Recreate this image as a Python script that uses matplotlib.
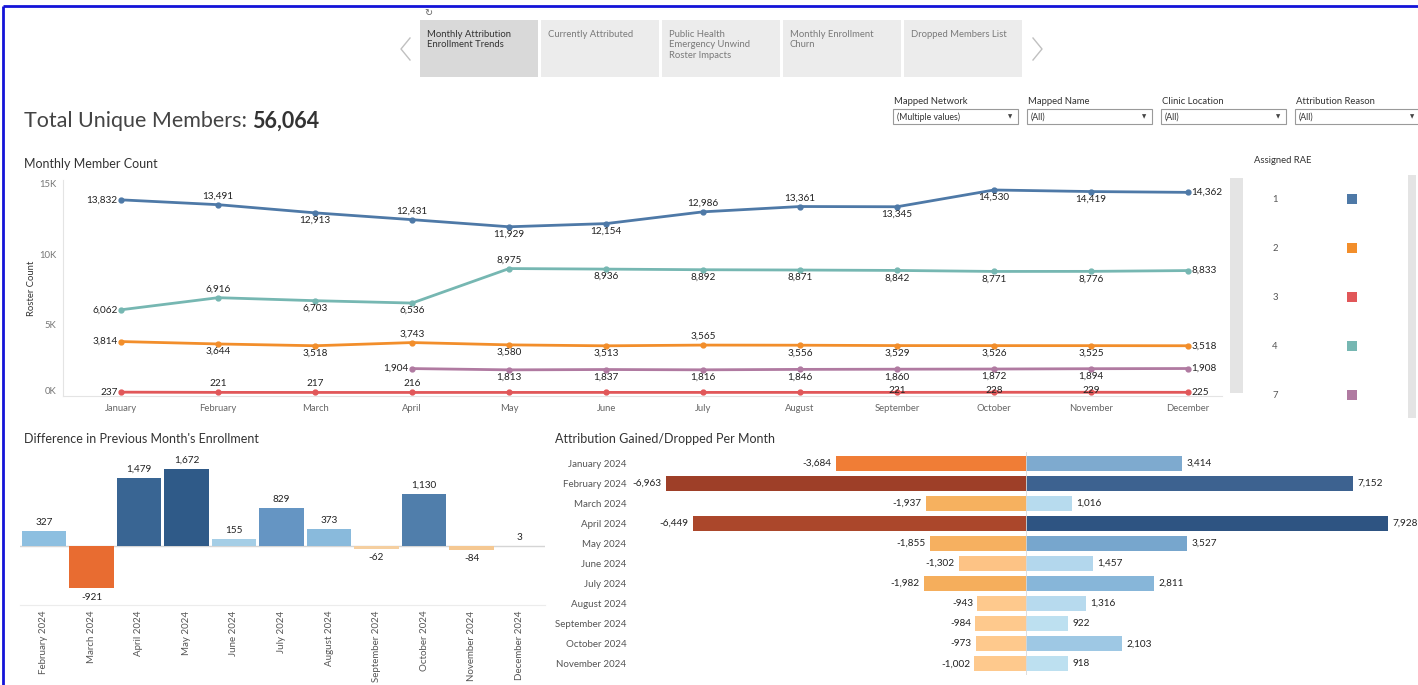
import matplotlib
matplotlib.use("Agg")
import matplotlib.pyplot as plt
from matplotlib.patches import Rectangle

plt.rcParams['font.family'] = ['Lato', 'DejaVu Sans']

# ---------------- data ----------------
months = ["January", "February", "March", "April", "May", "June", "July",
          "August", "September", "October", "November", "December"]
rae_names = ["1", "2", "3", "4", "7"]
rae1 = [13832, 13491, 12913, 12431, 11929, 12154, 12986, 13361, 13345, 14530, 14419, 14362]
rae2 = [3814, 3644, 3518, 3743, 3580, 3513, 3565, 3556, 3529, 3526, 3525, 3518]
rae3 = [237, 221, 217, 216, 218, 220, 219, 221, 221, 228, 229, 225]
rae4 = [6062, 6916, 6703, 6536, 8975, 8936, 8892, 8871, 8842, 8771, 8776, 8833]
rae7 = [None, None, None, 1904, 1813, 1837, 1816, 1846, 1860, 1872, 1894, 1908]

y_ticks = [0, 5000, 10000, 15000]
y_tick_labels = ["0K", "5K", "10K", "15K"]

diff_months = ["February 2024", "March 2024", "April 2024", "May 2024", "June 2024",
               "July 2024", "August 2024", "September 2024", "October 2024",
               "November 2024", "December 2024"]
diff_values = [327, -921, 1479, 1672, 155, 829, 373, -62, 1130, -84, 3]

gd_months = ["January 2024", "February 2024", "March 2024", "April 2024", "May 2024",
             "June 2024", "July 2024", "August 2024", "September 2024",
             "October 2024", "November 2024"]
dropped = [-3684, -6963, -1937, -6449, -1855, -1302, -1982, -943, -984, -973, -1002]
gained = [3414, 7152, 1016, 7928, 3527, 1457, 2811, 1316, 922, 2103, 918]

total_members = 56064

tabs = ["Monthly Attribution\nEnrollment Trends", "Currently Attributed",
        "Public Health\nEmergency Unwind\nRoster Impacts",
        "Monthly Enrollment\nChurn", "Dropped Members List"]
filters = [("Mapped Network", "(Multiple values)"), ("Mapped Name", "(All)"),
           ("Clinic Location", "(All)"), ("Attribution Reason", "(All)")]

# ---------------- styles ----------------
rae_colors = ["#4e79a7", "#f28e2b", "#e15759", "#76b7b2", "#b07aa1"]
# label placement per point: a=above, A=tight above, b=below, l=left, r=right, n=none
rae_pos = [
    "lababbaabbbr",   # 1
    "lbbabbabbbbr",   # 2
    "laaannnnAAAr",   # 3
    "labbabbbbbbr",   # 4
    "nnnlbbbbbbbr",   # 7
]
diff_colors = ["#8dbfe0", "#e86c31", "#396593", "#2f5a88", "#a5cee6", "#6595c3",
               "#89badc", "#f5cfa0", "#507eab", "#f5c892", "#efe9e2"]
drop_colors = ["#f07d36", "#9e3f28", "#f6b15f", "#ab472b", "#f6b060", "#fdc385",
               "#f5ae5c", "#fec98d", "#fec98d", "#fec98d", "#fec98d"]
gain_colors = ["#7eaacf", "#3d6290", "#b7dbee", "#2e5482", "#77a6cd", "#b3d7ed",
               "#87b6d9", "#b7daee", "#bde0f0", "#9ec8e4", "#bde0f0"]

W, H = 1418, 685
fig = plt.figure(figsize=(W / 100, H / 100), dpi=100)
fig.patch.set_facecolor("white")

bg = fig.add_axes([0, 0, 1, 1], zorder=0)
bg.set_xlim(0, W)
bg.set_ylim(H, 0)
bg.axis("off")


def px_axes(x0, y0, x1, y1, z=2):
    ax = fig.add_axes([x0 / W, 1 - y1 / H, (x1 - x0) / W, (y1 - y0) / H], zorder=z)
    ax.set_facecolor("none")
    return ax


def fmt(v):
    return f"{v:,}"


# border
bg.plot([2.5, 2.5], [H, 6], color="#1414d8", lw=2, solid_capstyle="butt")
bg.plot([2.5, W], [6, 6], color="#1414d8", lw=2, solid_capstyle="butt")

# tabs
tab_x = [420, 541, 662, 783, 904]
for i, (tx, name) in enumerate(zip(tab_x, tabs)):
    bg.add_patch(Rectangle((tx, 20), 118, 57, facecolor="#d9d9d9" if i == 0 else "#ececec",
                           edgecolor="none"))
    bg.text(tx + 7, 30, name, fontsize=6.8, color="#333333" if i == 0 else "#7a7a7a",
            va="top", ha="left", linespacing=1.2)
bg.text(424, 13, "\u21bb", fontsize=7, color="#666666", va="center", ha="left",
        family="DejaVu Sans")
bg.plot([410, 401, 410], [38, 49, 60], color="#c0c0c0", lw=1)
bg.plot([1033, 1042, 1033], [38, 49, 60], color="#c0c0c0", lw=1)

# title
t1 = bg.text(24, 121, "Total Unique Members: ", fontsize=15.5, color="#444444",
             va="center", ha="left")
fig.canvas.draw()
bb = t1.get_window_extent(renderer=fig.canvas.get_renderer())
bg.text(bb.x1, 121, fmt(total_members), fontsize=15.5, color="#333333",
        fontweight="bold", va="center", ha="left")

# filters
fx = [893, 1027, 1161, 1295]
for x, (lab, val) in zip(fx, filters):
    bg.text(x + 1, 101, lab, fontsize=6.8, color="#333333", va="center", ha="left")
    bg.add_patch(Rectangle((x, 109), 125, 15, facecolor="white", edgecolor="#9a9a9a", lw=0.8))
    bg.text(x + 4, 117, val, fontsize=6.3, color="#333333", va="center", ha="left")
    bg.text(x + 117, 117, "\u25bc", fontsize=4, color="#444444", va="center", ha="center",
            family="DejaVu Sans")

# section titles
bg.text(24, 164, "Monthly Member Count", fontsize=9, color="#333333", va="center")
bg.text(24, 439, "Difference in Previous Month's Enrollment", fontsize=9,
        color="#333333", va="center")
bg.text(555, 439, "Attribution Gained/Dropped Per Month", fontsize=9,
        color="#333333", va="center")

# ---------------- line chart ----------------
ax = px_axes(63, 180, 1222, 396)
series = [rae1, rae2, rae3, rae4, rae7]
draw_order = [2, 4, 1, 3, 0]
xs = list(range(len(months)))
for k in draw_order:
    vals = series[k]
    px = [x for x, v in zip(xs, vals) if v is not None]
    pv = [v for v in vals if v is not None]
    ax.plot(px, pv, color=rae_colors[k], lw=2, marker="o", markersize=3.5, zorder=3,
            clip_on=False)
    for x, v, p in zip(xs, vals, rae_pos[k]):
        if v is None or p == "n":
            continue
        if p == "a":
            off, ha, va = (0, 3), "center", "bottom"
        elif p == "A":
            off, ha, va = (0, -1.8), "center", "bottom"
        elif p == "b":
            off, ha, va = (0, -2.2), "center", "top"
        elif p == "l":
            off, ha, va = (-2.5, 0), "right", "center"
        else:
            off, ha, va = (2.5, 0), "left", "center"
        ax.annotate(fmt(v), (x, v), xytext=off, textcoords="offset points",
                    ha=ha, va=va, fontsize=7.2, color="#222222", zorder=5)
ax.set_xlim(-0.6, 11.35)
ax.set_ylim(-35, 15236)
ax.set_xticks(xs)
ax.set_xticklabels(months, fontsize=6.8, color="#666666")
ax.set_yticks(y_ticks)
ax.set_yticklabels(y_tick_labels, fontsize=6.8, color="#777777")
ax.get_yticklabels()[0].set_va("bottom")
ax.tick_params(length=0, pad=5)
ax.tick_params(axis="x", pad=6)
for s in ["top", "right"]:
    ax.spines[s].set_visible(False)
for s in ["left", "bottom"]:
    ax.spines[s].set_color("#e4e4e4")
    ax.spines[s].set_linewidth(0.8)
ax.set_ylabel("Roster Count", fontsize=6.8, color="#333333", labelpad=2)

# legend panel
bg.text(1254, 160, "Assigned RAE", fontsize=6.8, color="#333333", va="center")
bg.add_patch(Rectangle((1230, 178), 13, 215, facecolor="#e4e4e4", edgecolor="none"))
bg.add_patch(Rectangle((1408, 175), 8, 243, facecolor="#e4e4e4", edgecolor="none"))
for i, (nm, c) in enumerate(zip(rae_names, rae_colors)):
    yy = 199 + 49 * i
    bg.text(1275, yy, nm, fontsize=6.8, color="#555555", va="center", ha="center")
    bg.add_patch(Rectangle((1347, yy - 5), 10, 10, facecolor=c, edgecolor="none"))

# ---------------- difference bar chart ----------------
ax2 = px_axes(20, 453, 545, 605)
dx = list(range(len(diff_months)))
ax2.bar(dx, diff_values, width=0.93, color=diff_colors, zorder=2)
ax2.axhline(0, color="#d5d5d5", lw=1, zorder=1)
for x, v in zip(dx, diff_values):
    if v >= 0:
        ax2.annotate(fmt(v), (x, v), xytext=(0, 3), textcoords="offset points",
                     ha="center", va="bottom", fontsize=7.2, color="#222222")
    else:
        ax2.annotate(fmt(v), (x, v), xytext=(0, -3), textcoords="offset points",
                     ha="center", va="top", fontsize=7.2, color="#222222")
ax2.set_xlim(-0.505, 10.547)
ax2.set_ylim(-1283, 2022)
ax2.set_yticks([])
ax2.set_xticks(dx)
ax2.set_xticklabels(diff_months, rotation=90, fontsize=7, color="#555555",
                    va="top", ha="center")
ax2.tick_params(length=0, pad=4)
for s in ["top", "right", "left"]:
    ax2.spines[s].set_visible(False)
ax2.spines["bottom"].set_color("#ececec")

# ---------------- gained / dropped ----------------
rows = list(range(len(gd_months)))
axl = px_axes(632, 452, 1026, 675)
axr = px_axes(1026, 452, 1418, 675)
axl.barh(rows, dropped, height=0.75, color=drop_colors, zorder=2)
axr.barh(rows, gained, height=0.75, color=gain_colors, zorder=2)
axl.set_xlim(-7621, 0)
axr.set_xlim(0, 8578)
for a in (axl, axr):
    a.set_ylim(10.55, -0.55)
    a.set_xticks([])
    for s in a.spines.values():
        s.set_visible(False)
axr.set_yticks([])
axl.set_yticks(rows)
axl.set_yticklabels(gd_months, fontsize=7, color="#555555")
axl.tick_params(length=0, pad=4)
axr.axvline(0, color="#d8d8d8", lw=1.2, zorder=3)
for r, v in zip(rows, dropped):
    axl.annotate(fmt(v), (v, r), xytext=(-3, 0), textcoords="offset points",
                 ha="right", va="center", fontsize=7.2, color="#222222")
for r, v in zip(rows, gained):
    axr.annotate(fmt(v), (v, r), xytext=(3, 0), textcoords="offset points",
                 ha="left", va="center", fontsize=7.2, color="#222222")

fig.savefig("out.png", dpi=100, facecolor="white")
